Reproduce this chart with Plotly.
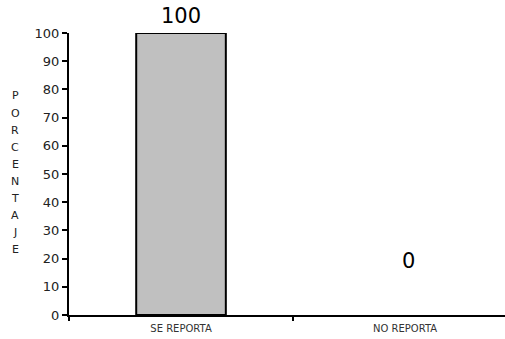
import plotly.graph_objects as go

categories = ["SE REPORTA", "NO REPORTA"]
values = [100, 0]
value_labels = ["100", "0"]
y_ticks = [0, 10, 20, 30, 40, 50, 60, 70, 80, 90, 100]
axis_title = "PORCENTAJE"

W, H = 505, 339
L, R, T, B = 69, 0, 33, 24
plot_w = W - L - R
plot_h = H - T - B

fig = go.Figure()
fig.add_trace(go.Bar(
    x=categories, y=values,
    width=0.4,
    marker=dict(color="#c0c0c0", line=dict(color="black", width=[2, 0])),
    showlegend=False,
))

# value labels
fig.add_annotation(x=categories[0], y=values[0], text=value_labels[0],
                   showarrow=False, yanchor="bottom", yshift=4, borderpad=0,
                   font=dict(size=21, color="black"))
fig.add_annotation(x=categories[1], y=19, text=value_labels[1],
                   showarrow=False, xshift=3,
                   font=dict(size=21, color="black"))

# stacked vertical axis title, one letter per line
for i, ch in enumerate(axis_title):
    px, py = 15, 96 + i * 17.1
    fig.add_annotation(x=(px - L) / plot_w, xref="paper", xanchor="center",
                       y=1 - (py - T) / plot_h, yref="paper", yanchor="middle",
                       text=ch, showarrow=False,
                       font=dict(size=11, color="#222"))

fig.update_layout(
    width=W, height=H,
    margin=dict(l=L, r=R, t=T, b=B),
    plot_bgcolor="white", paper_bgcolor="white",
    font=dict(family="DejaVu Sans, Arial, sans-serif"),
    xaxis=dict(range=[-0.5, 1.446], showline=True, linecolor="black", linewidth=2,
               ticks="outside", tickson="boundaries", ticklen=4, tickwidth=2,
               tickcolor="black", tickfont=dict(size=10, color="#333"),
               ticklabelstandoff=3,
               showgrid=False, zeroline=False, automargin=False),
    yaxis=dict(range=[0, 100], tickvals=y_ticks, showline=True, linecolor="black",
               linewidth=2, ticks="outside", ticklen=5, tickwidth=2, tickcolor="black",
               tickfont=dict(size=13, color="#222"), showgrid=False, zeroline=False,
               automargin=False),
)

# drop the default 8px body margin so the figure fills the window
fig.write_html("out.html", config={"displayModeBar": False},
               post_script="document.body.style.margin='0';")
